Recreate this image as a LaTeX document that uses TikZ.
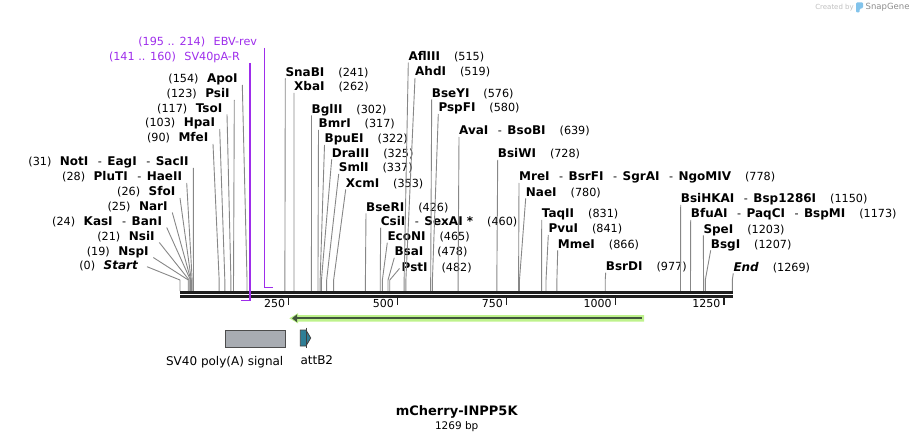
\documentclass[tikz,border=0pt]{standalone}
\usepackage{fontspec}
\setmainfont{DejaVu Sans}
\usepackage{tikz}
\usetikzlibrary{arrows.meta, positioning, calc}
\definecolor{primer}{RGB}{158,45,235}
\definecolor{cutgray}{RGB}{135,135,135}
\definecolor{polya}{RGB}{168,172,178}
\definecolor{attb}{RGB}{46,126,150}
\definecolor{orfglow}{RGB}{190,242,140}
\definecolor{orfline}{RGB}{65,85,60}
\definecolor{snapblue}{RGB}{130,195,235}
\newcommand{\enz}[1]{{\fontsize{12}{13}\selectfont\bfseries #1}}
\newcommand{\sep}{\hspace{9.5pt}-\hspace{5.5pt}}
\newcommand{\gapR}{\hspace{14pt}}
\newcommand{\gapL}{\hspace{8.5pt}}
\newcommand{\cutto}[2]{\draw[cutline] (#1) -- ($(k0)!#2/1269!(kN)$) -- ($(b0)!#2/1269!(bN)$);}
\tikzstyle{rsite} = [anchor=south west, inner xsep=0pt, inner ysep=0.5pt, text height=8pt, text depth=1.5pt, font=\fontsize{11.2}{13}\selectfont]
\tikzstyle{lsite} = [rsite, anchor=south east, inner xsep=4.5pt]
\tikzstyle{cutline} = [draw=cutgray, line width=0.9pt]
\tikzstyle{barline} = [draw=black!88, line width=2.4pt]
\tikzstyle{primerline} = [draw=primer, line width=1.3pt]
\tikzstyle{tick} = [draw=black!88, line width=1.3pt]
\tikzstyle{ticklabel} = [anchor=base east, inner sep=0pt, xshift=-3pt, yshift=-2.3pt, font=\fontsize{11}{13}\selectfont]
\tikzstyle{featlabel} = [inner sep=0pt, text height=9pt, text depth=2.5pt, font=\fontsize{12}{14}\selectfont]

\begin{document}
\begin{tikzpicture}[x=1pt, y=-1pt]
    \useasboundingbox (0,0) rectangle (914,441);

    % map scale: 0 .. 1269 bp
    \coordinate (k0) at (180,280);   \coordinate (kN) at (732.3,280);
    \coordinate (b0) at (180,291);   \coordinate (bN) at (732.3,291);
    \coordinate (t0) at (180,297.5); \coordinate (tN) at (732.3,297.5);
    \coordinate (p0) at (180,287.3); \coordinate (pN) at (732.3,287.3);
    \coordinate (q0) at (180,300.7); \coordinate (qN) at (732.3,300.7);

    % Cut sites left of their lines
    \node[lsite, anchor=east, inner xsep=9pt] (start) at (147,266.7) {(0)\gapL\enz{\itshape Start}};
    \node[lsite] (nspi) at (153.3,257.5) {(19)\gapL\enz{NspI}};
    \node[lsite] (nsii) at (159.3,242.5) {(21)\gapL\enz{NsiI}};
    \node[lsite] (kasi) at (166.7,227.5) {(24)\gapL\enz{KasI}\sep\enz{BanI}};
    \node[lsite] (nari) at (172.3,212.5) {(25)\gapL\enz{NarI}};
    \node[lsite] (sfoi) at (180,198) {(26)\gapL\enz{SfoI}};
    \node[lsite] (pluti) at (186.7,183) {(28)\gapL\enz{PluTI}\sep\enz{HaeII}};
    \node[lsite] (noti) at (193.3,168) {(31)\gapL\enz{NotI}\sep\enz{EagI}\sep\enz{SacII}};
    \node[lsite] (mfei) at (213,144) {(90)\gapL\enz{MfeI}};
    \node[lsite] (hpai) at (219.7,129) {(103)\gapL\enz{HpaI}};
    \node[lsite] (tsoi) at (227,114.3) {(117)\gapL\enz{TsoI}};
    \node[lsite] (psii) at (234.3,100) {(123)\gapL\enz{PsiI}};
    \node[lsite] (apoi) at (242.3,85) {(154)\gapL\enz{ApoI}};

    \cutto{start.east}{0}
    \cutto{nspi.south east}{19}
    \cutto{nsii.south east}{21}
    \cutto{kasi.south east}{24}
    \cutto{nari.south east}{25}
    \cutto{sfoi.south east}{26}
    \cutto{pluti.south east}{28}
    \cutto{noti.south east}{31}
    \cutto{mfei.south east}{90}
    \cutto{hpai.south east}{103}
    \cutto{tsoi.south east}{117}
    \cutto{psii.south east}{123}
    \cutto{apoi.south east}{154}

    % Cut sites right of their lines
    \node[rsite] (snabi) at (285.3,78.3) {\enz{SnaBI}\gapR(241)};
    \node[rsite] (xbai) at (294,93) {\enz{XbaI}\gapR(262)};
    \node[rsite] (bglii) at (311.5,115.3) {\enz{BglII}\gapR(302)};
    \node[rsite] (bmri) at (318.5,130) {\enz{BmrI}\gapR(317)};
    \node[rsite] (bpuei) at (324.5,145) {\enz{BpuEI}\gapR(322)};
    \node[rsite] (draiii) at (331.7,159.3) {\enz{DraIII}\gapR(325)};
    \node[rsite] (smli) at (338.7,174) {\enz{SmlI}\gapR(337)};
    \node[rsite] (xcmi) at (345.7,189.5) {\enz{XcmI}\gapR(353)};
    \node[rsite] (bseri) at (366,213.3) {\enz{BseRI}\gapR(426)};
    \node[rsite] (csii) at (380.7,227.7) {\enz{CsiI}\sep\enz{SexAI *}\gapR(460)};
    \node[rsite] (econi) at (387.3,242.7) {\enz{EcoNI}\gapR(465)};
    \node[rsite] (bsai) at (394.3,257.7) {\enz{BsaI}\gapR(478)};
    \node[rsite, anchor=west, inner xsep=2pt] (psti) at (399.5,268.5) {\enz{PstI}\gapR(482)};
    \node[rsite] (afliii) at (408.3,62.7) {\enz{AflIII}\gapR(515)};
    \node[rsite] (ahdi) at (415,78) {\enz{AhdI}\gapR(519)};
    \node[rsite] (bseyi) at (431.7,99.3) {\enz{BseYI}\gapR(576)};
    \node[rsite] (pspfi) at (438.3,114) {\enz{PspFI}\gapR(580)};
    \node[rsite] (avai) at (459,137) {\enz{AvaI}\sep\enz{BsoBI}\gapR(639)};
    \node[rsite] (bsiwi) at (497.7,160) {\enz{BsiWI}\gapR(728)};
    \node[rsite] (mrei) at (519,183) {\enz{MreI}\sep\enz{BsrFI}\sep\enz{SgrAI}\sep\enz{NgoMIV}\gapR(778)};
    \node[rsite] (naei) at (525.7,198.3) {\enz{NaeI}\gapR(780)};
    \node[rsite] (taqii) at (541.7,220) {\enz{TaqII}\gapR(831)};
    \node[rsite] (pvui) at (548.3,235) {\enz{PvuI}\gapR(841)};
    \node[rsite] (mmei) at (557.7,250.3) {\enz{MmeI}\gapR(866)};
    \node[rsite] (bsrdi) at (605.7,272.7) {\enz{BsrDI}\gapR(977)};
    \node[rsite] (bsihkai) at (680.7,205) {\enz{BsiHKAI}\sep\enz{Bsp1286I}\gapR(1150)};
    \node[rsite] (bfuai) at (690.7,220) {\enz{BfuAI}\sep\enz{PaqCI}\sep\enz{BspMI}\gapR(1173)};
    \node[rsite] (spei) at (703.3,235.3) {\enz{SpeI}\gapR(1203)};
    \node[rsite] (bsgi) at (710.7,250.3) {\enz{BsgI}\gapR(1207)};
    \node[rsite] (stop) at (733.3,273.3) {\enz{\itshape End}\gapR(1269)};

    \cutto{snabi.south west}{241}
    \cutto{xbai.south west}{262}
    \cutto{bglii.south west}{302}
    \cutto{bmri.south west}{317}
    \cutto{bpuei.south west}{322}
    \cutto{draiii.south west}{325}
    \cutto{smli.south west}{337}
    \cutto{xcmi.south west}{353}
    \cutto{bseri.south west}{426}
    \cutto{csii.south west}{460}
    \cutto{econi.south west}{465}
    \cutto{bsai.south west}{478}
    \cutto{psti.west}{482}
    \cutto{afliii.south west}{515}
    \cutto{ahdi.south west}{519}
    \cutto{bseyi.south west}{576}
    \cutto{pspfi.south west}{580}
    \cutto{avai.south west}{639}
    \cutto{bsiwi.south west}{728}
    \cutto{mrei.south west}{778}
    \cutto{naei.south west}{780}
    \cutto{taqii.south west}{831}
    \cutto{pvui.south west}{841}
    \cutto{mmei.south west}{866}
    \cutto{bsrdi.south west}{977}
    \cutto{bsihkai.south west}{1150}
    \cutto{bfuai.south west}{1173}
    \cutto{spei.south west}{1203}
    \cutto{bsgi.south west}{1207}
    \cutto{stop.south west}{1269}

    % Sequence bar and ticks
    \draw[barline] (180,292.3) -- (733,292.3);
    \draw[barline] (180,296.5) -- (733,296.5);
    \foreach \t in {250,500,750,1000,1250}
        \draw[tick] ($(t0)!\t/1269!(tN)$) -- ++(0,7.5) node[ticklabel] {\t};

    % Primers
    \node[lsite, text=primer, inner xsep=7pt] (ebv) at (264.3,48) {(195 .. 214)\gapL EBV-rev};
    \node[lsite, text=primer, inner xsep=10pt] (sv40r) at (250,63) {(141 .. 160)\gapL SV40pA-R};
    \draw[primerline] (ebv.south east) |- ($(p0)!214/1269!(pN)$);
    \draw[primerline] (sv40r.south east) |- ($(q0)!141/1269!(qN)$);

    % Features
    \fill[orfglow] (644,315) -- (298,315) -- (298,313.2) -- (289.3,318.3) -- (298,323.4) -- (298,321.7) -- (644,321.7) -- cycle;
    \draw[orfline, line width=2.3pt, -{Triangle[length=5pt, width=7.5pt]}] (641.7,318.3) -- (292,318.3);

    \node[draw=black!70, fill=polya, line width=0.8pt, minimum width=59.4pt, minimum height=16.4pt, inner sep=0pt, anchor=north west] (polyabox) at (225.3,330.3) {};
    \node[featlabel, anchor=north east] (polyatxt) at ([xshift=-2pt, yshift=-8.7pt]polyabox.south east) {SV40 poly(A) signal};

    \draw[fill=attb, draw=black!75, line width=0.8pt] (300.3,330) -- (306,330) -- (310.7,338) -- (306,346) -- (300.3,346) -- cycle;
    \draw[black!75, line width=0.8pt] (306,327.7) -- (306,348.3);
    \node[featlabel, anchor=north west] (attbtxt) at (300.3,355.4) {attB2};

    % Title
    \node[inner sep=0pt, text height=9.5pt, text depth=3pt, font=\fontsize{13}{15}\selectfont\bfseries] (title) at (456.7,412) {mCherry-INPP5K};
    \node[inner sep=0pt, text height=7.5pt, text depth=2pt, font=\fontsize{10.5}{12}\selectfont, below=3pt of title] (size) {1269 bp};

    % Logo
    \node[anchor=east, inner sep=0pt, text=black!25, font=\fontsize{7}{8}\selectfont] (created) at (854,7.5) {Created by};
    \fill[snapblue, rounded corners=1pt] (856,2.5) -- (863,2.5) -- (863,8) -- (859.5,9) -- (859.5,12.5) -- (856,12.5) -- cycle;
    \node[anchor=west, inner sep=0pt, text=black!45, font=\fontsize{8.5}{10}\selectfont] (snapgene) at (865.5,7.5) {SnapGene};
\end{tikzpicture}
\end{document}
